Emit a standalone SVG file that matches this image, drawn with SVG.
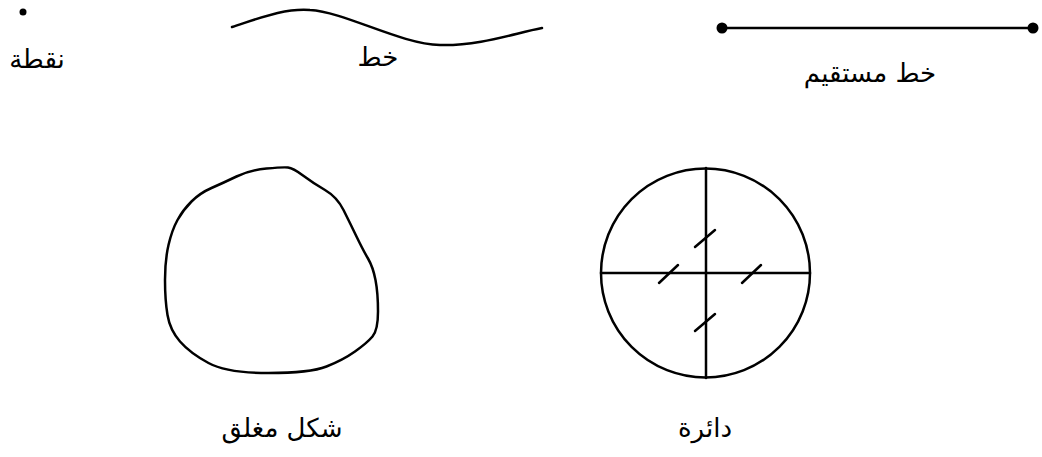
<svg xmlns="http://www.w3.org/2000/svg" width="1042" height="457" viewBox="0 0 1042 457">
<style>
.ln{fill:none;stroke:#000;stroke-width:2.5;stroke-linecap:round;stroke-linejoin:round}
.lbl{font-family:"DejaVu Sans","Noto Sans",sans-serif;font-size:26px;fill:#000;text-anchor:middle}
</style>
<rect width="1042" height="457" fill="#fff"/>
<g id="point">
<circle cx="23" cy="12" r="3.5" fill="#000"/>
<text class="lbl" x="37" y="68" direction="rtl">نقطة</text>
</g>
<g id="curve">
<path class="ln" d="M232,27 C260,18 285,8 310,10 C345,12 400,44 440,45 C480,46 515,33 542,28"/>
<text class="lbl" x="378" y="66" direction="rtl">خط</text>
</g>
<g id="segment">
<line class="ln" x1="722" y1="28" x2="1033" y2="28" stroke-width="3"/>
<circle cx="722" cy="28" r="5.5" fill="#000"/>
<circle cx="1033" cy="28" r="5.5" fill="#000"/>
<text class="lbl" x="870" y="82" direction="rtl">خط مستقيم</text>
</g>
<g id="closed">
<path class="ln" d="M236.5,176.5 Q250,170 266.5,168.5 Q283,167 288,167.5 Q293,168 303,175.5 Q313,183 325,190 Q337,197 343.5,210 Q350,223 356.5,236.5 Q363,250 368,258.5 Q373,267 375.5,280 Q378,293 378,311.5 Q378,330 372.5,336.5 Q367,343 355,351.5 Q343,360 326.5,366.5 Q310,373 268.5,373 Q227,373 208.5,363 Q190,353 180,341.5 Q170,330 167.5,315 Q165,300 165,280 Q165,260 168.5,245 Q172,230 177.5,220 Q183,210 191.5,201.5 Q200,193 211.5,188 Q223,183 236.5,176.5 Z"/>
<text class="lbl" x="282" y="437" direction="rtl">شكل مغلق</text>
</g>
<g id="circle">
<circle class="ln" cx="705.5" cy="273" r="104.5"/>
<line class="ln" x1="601" y1="273" x2="810" y2="273" stroke-width="3"/>
<line class="ln" x1="706" y1="168" x2="706" y2="378" stroke-width="3"/>
<line class="ln" x1="695" y1="247" x2="715" y2="230"/>
<line class="ln" x1="659" y1="283" x2="678" y2="265"/>
<line class="ln" x1="742" y1="283" x2="761" y2="265"/>
<line class="ln" x1="695" y1="331" x2="715" y2="314"/>
<text class="lbl" x="705" y="437" direction="rtl">دائرة</text>
</g>
</svg>
